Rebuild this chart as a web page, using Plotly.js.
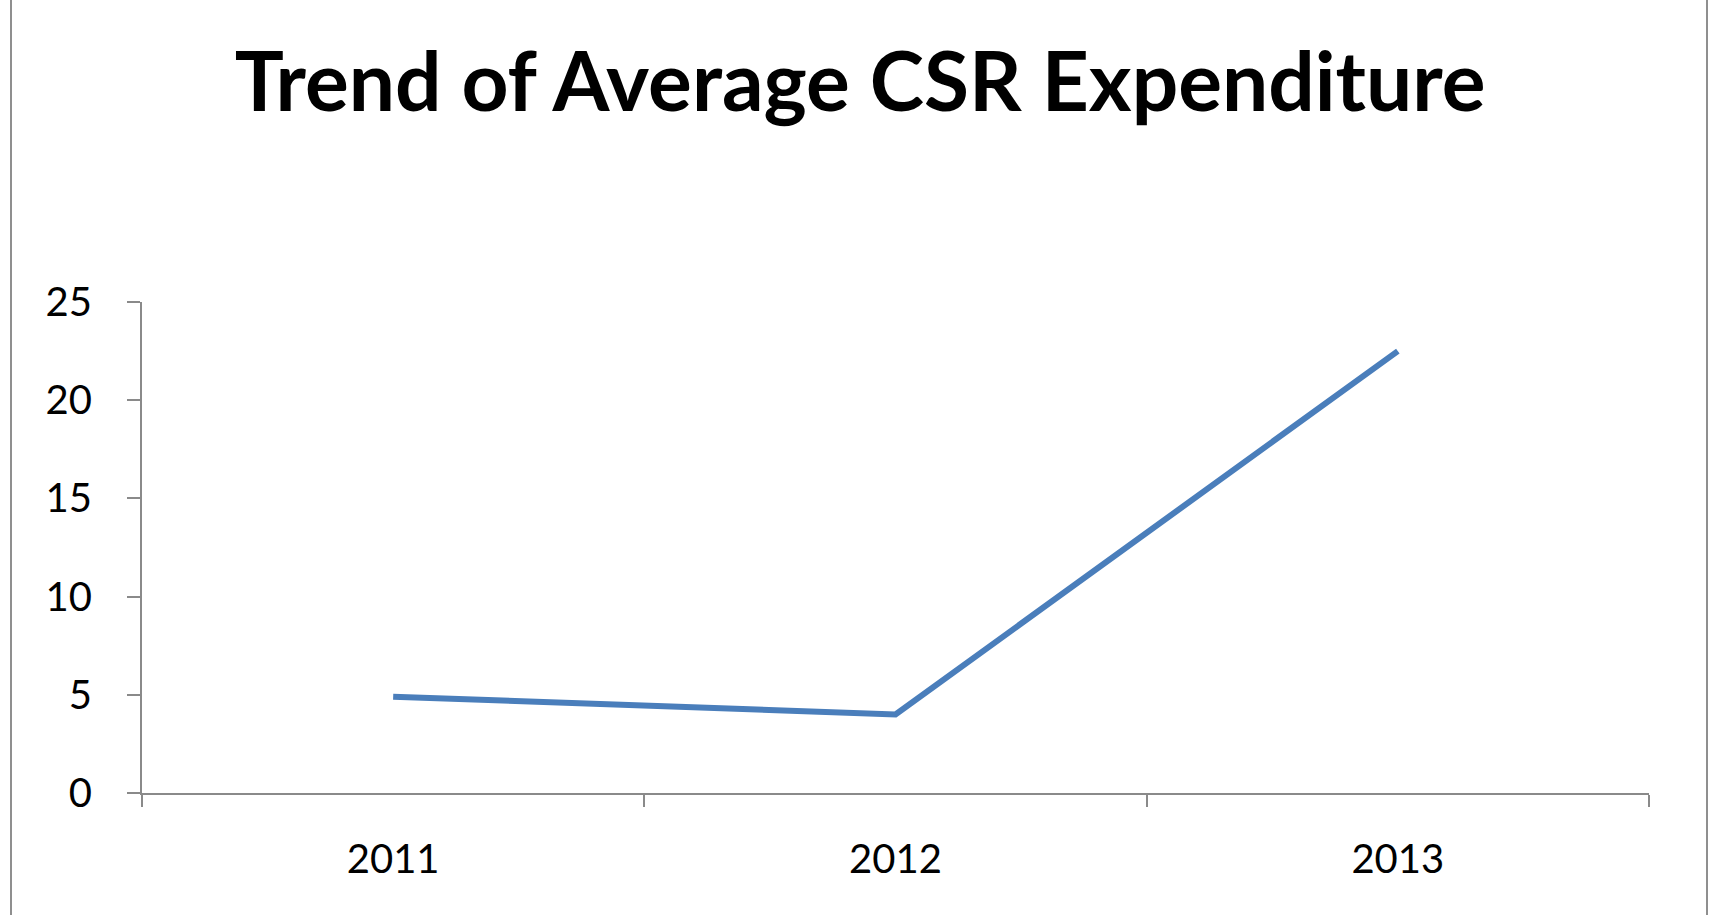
<!DOCTYPE html>
<html>
<head>
<meta charset="utf-8">
<script src="https://cdn.plot.ly/plotly-3.0.1.min.js"></script>
<style>
  html, body { margin: 0; padding: 0; background: #ffffff; }
  #chart { width: 1710px; height: 915px; position: absolute; left: 0; top: 0; }
  #frame { position: absolute; left: 10px; top: 0; width: 1694px; height: 915px;
           border-left: 2px solid #8f8f8f; border-right: 2px solid #8f8f8f; pointer-events: none; }
</style>
</head>
<body>
<div id="chart"></div>
<div id="frame"></div>
<script>
const years = ["2011", "2012", "2013"];
const avgCsrExpenditure = [4.9, 4.0, 22.5];
const yTicks = [0, 5, 10, 15, 20, 25];
const chartTitle = "Trend of Average CSR Expenditure";

const trace = {
  type: "scatter",
  mode: "lines",
  x: years,
  y: avgCsrExpenditure,
  line: { color: "#4A7EBB", width: 6 },
  hoverinfo: "x+y",
  showlegend: false
};

const layout = {
  width: 1710,
  height: 915,
  paper_bgcolor: "#ffffff",
  plot_bgcolor: "#ffffff",
  margin: { l: 142, r: 61, t: 302, b: 122 },
  font: { family: "Lato, 'Open Sans', sans-serif", color: "#000000" },
  title: {
    text: "<b>" + chartTitle + "</b>",
    font: { family: "Lato, 'Open Sans', sans-serif", size: 82, color: "#000000" },
    x: 0.503, xanchor: "center",
    y: 1 - 82 / 915, yanchor: "middle", yref: "container"
  },
  xaxis: {
    type: "category",
    range: [-0.5, 2.5],
    tickson: "boundaries",
    ticks: "outside",
    ticklen: 12,
    tickwidth: 2,
    tickcolor: "#8a8a8a",
    showline: true,
    linecolor: "#8a8a8a",
    linewidth: 2,
    showgrid: false,
    zeroline: false,
    ticklabelstandoff: 30,
    tickfont: { size: 40, color: "#000000" }
  },
  yaxis: {
    range: [0, 25],
    tickvals: yTicks,
    ticktext: yTicks.map(String),
    ticks: "outside",
    ticklen: 13,
    tickwidth: 2,
    tickcolor: "#8a8a8a",
    showline: true,
    linecolor: "#8a8a8a",
    linewidth: 2,
    showgrid: false,
    zeroline: false,
    ticklabelstandoff: 27,
    tickfont: { size: 40, color: "#000000" }
  }
};

Plotly.newPlot("chart", [trace], layout, { displayModeBar: false, staticPlot: true });
</script>
</body>
</html>
